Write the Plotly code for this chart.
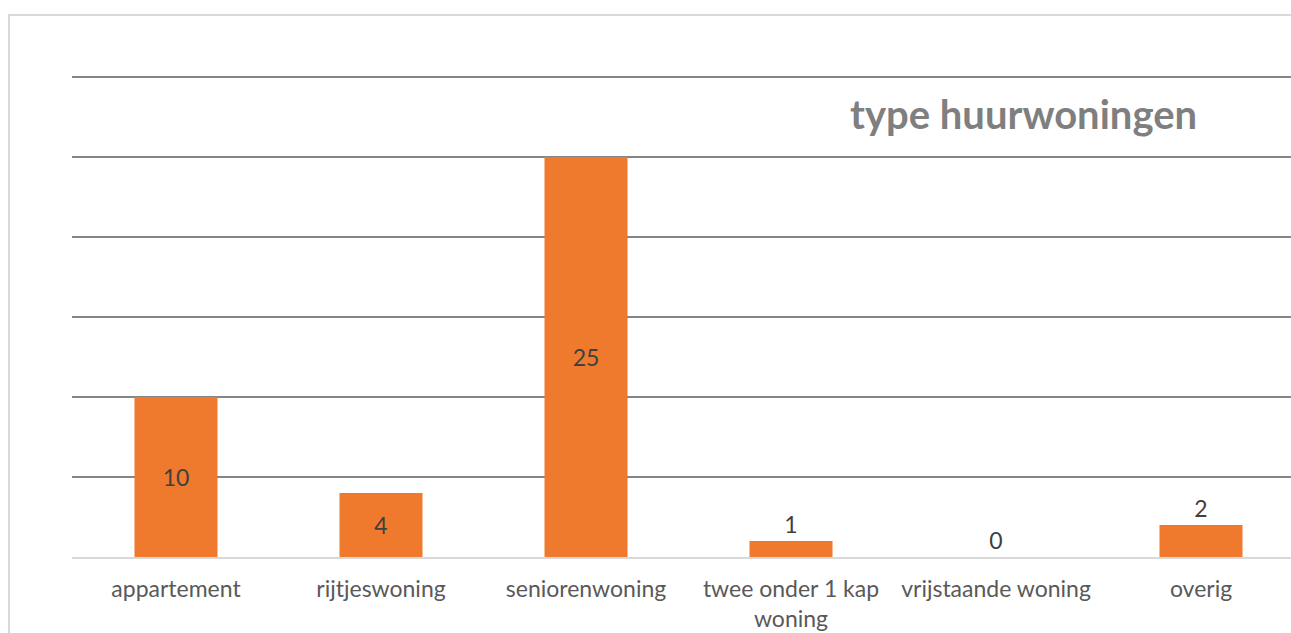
import plotly.graph_objects as go

categories = ["appartement", "rijtjeswoning", "seniorenwoning",
              "twee onder 1 kap<br>woning", "vrijstaande woning", "overig"]
values = [10, 4, 25, 1, 0, 2]
label_positions = ["inside", "inside", "inside", "outside", "outside", "outside"]
y_ticks = [0, 5, 10, 15, 20, 25, 30]
title_text = "type huurwoningen"

FONT = "Lato"
W, H = 1291, 633
L, T, B = 72, 69, 76
plot_w = W - L
plot_h = H - T - B
y_max = 30.5

fig = go.Figure()
fig.add_trace(go.Bar(
    x=list(range(len(categories))),
    y=values,
    marker=dict(color="#EF7A2E", line=dict(width=0)),
    text=[str(v) for v in values],
    textposition=label_positions,
    insidetextanchor="middle",
    textfont=dict(family=FONT, size=23, color="#404040"),
    insidetextfont=dict(family=FONT, size=23, color="#404040"),
    outsidetextfont=dict(family=FONT, size=23, color="#404040"),
    cliponaxis=False,
    hoverinfo="skip",
))

fig.update_layout(
    width=W, height=H,
    margin=dict(l=L, r=0, t=T, b=B, pad=0),
    paper_bgcolor="white", plot_bgcolor="white",
    bargap=0.595,
    showlegend=False,
    font=dict(family=FONT, color="#595959"),
)
fig.update_xaxes(
    range=[(L - 176) / 205, (W - 176) / 205],
    tickmode="array",
    tickvals=list(range(len(categories))),
    ticktext=categories,
    tickfont=dict(family=FONT, size=23, color="#595959"),
    ticks="", ticklen=0,
    ticklabelstandoff=10,
    showgrid=False, zeroline=False,
    showline=True, linecolor="#D9D9D9", linewidth=2,
)
fig.update_yaxes(
    range=[0, y_max],
    tickvals=y_ticks,
    showticklabels=False,
    showgrid=True, gridcolor="#858585", gridwidth=1.6,
    zeroline=False, showline=False,
)
fig.add_annotation(
    text="<b>" + title_text + "</b>",
    xref="paper", yref="paper",
    x=(848 - L) / plot_w, y=(557 - 114) / plot_h,
    xanchor="left", yanchor="middle", showarrow=False,
    font=dict(family=FONT, size=40, color="#7F7F7F"),
)
fig.add_shape(
    type="rect", xref="paper", yref="paper",
    x0=(9 - L) / plot_w, x1=1.05,
    y0=-0.2, y1=(557 - 15) / plot_h,
    line=dict(color="#D9D9D9", width=2), fillcolor="rgba(0,0,0,0)",
    layer="below",
)

fig.write_html("out.html", config={"displayModeBar": False},
               post_script="document.body.style.margin='0';")
